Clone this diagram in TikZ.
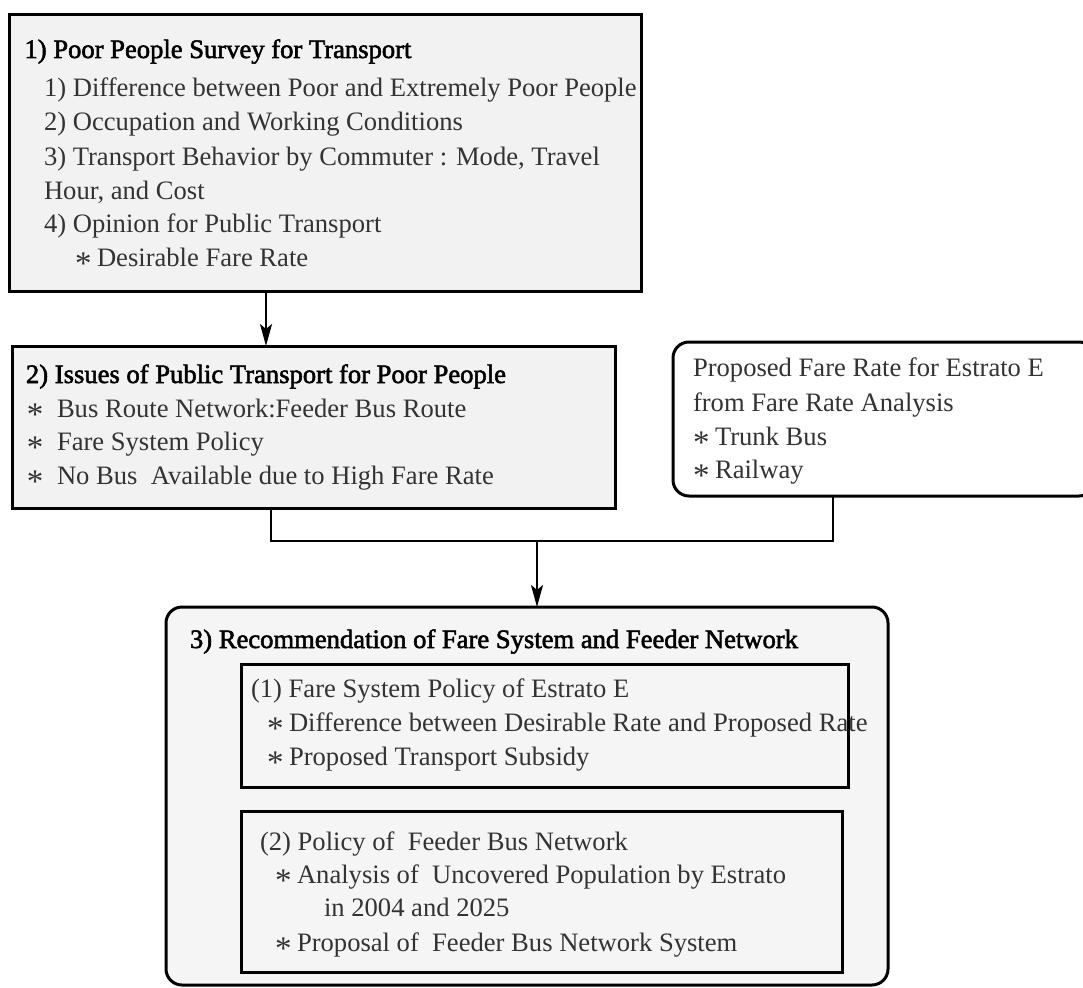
\documentclass[tikz,border=0pt]{standalone}
\usepackage{fontspec}
\setmainfont{Liberation Serif}
\newfontfamily\ttlfont{Liberation Serif}[FakeBold=2]
\usetikzlibrary{arrows.meta}
\definecolor{boxgray}{HTML}{F2F2F2}
\definecolor{boxlight}{HTML}{F5F5F5}
\definecolor{bodygray}{HTML}{333333}
\newcommand\bul[1]{\makebox[#1][l]{\raisebox{-8pt}{\fontsize{33pt}{34pt}\selectfont *}}}
\begin{document}
\begin{tikzpicture}[x=1pt,y=-1pt,
  box/.style={draw=black, line width=3pt, inner sep=0pt, outer sep=0pt, fill=#1},
  box/.default={boxgray},
  rbox/.style={box=#1, rounded corners=16pt},
  rbox/.default={white},
  txt/.style={anchor=base west, inner sep=0pt, outer sep=0pt,
    text height=18pt, text depth=5pt,
    font=\fontsize{26.6pt}{34pt}\selectfont, text=bodygray},
  ttl/.style={txt, font=\ttlfont\fontsize{26.6pt}{34pt}\selectfont, text=black},
  conn/.style={draw=black, line width=2.5pt},
  arr/.style={conn, -{Stealth[length=22pt, width=12pt, inset=5pt]}}
]
\useasboundingbox (0,0) rectangle (1083,987);

% boxes
\node[box, minimum width=632pt, minimum height=276pt] (b1) at (325,153) {};
\node[box, minimum width=603pt, minimum height=162pt] (b2) at (313.5,427) {};
\node[rbox, minimum width=422pt, minimum height=154pt] (b3) at (884,419) {};
\node[rbox=boxlight, minimum width=722pt, minimum height=378pt] (b4) at (527,796) {};
\node[box=boxlight, minimum width=607pt, minimum height=123pt] (b4a) at (544.5,725.5) {};
\node[box=boxlight, minimum width=601pt, minimum height=161pt] (b4b) at (541.5,891.5) {};

% connectors
\coordinate (xa) at (266,0);
\coordinate (xb) at (271,0);
\coordinate (xc) at (833,0);
\coordinate (j) at (537,541);
\draw[arr] (b1.south -| xa) -- (b2.north -| xa);
\draw[conn] (b2.south -| xb) |- (j) -| (b3.south -| xc);
\draw[arr] (j) -- (b4.north -| j);

% box 1 text
\node[ttl] (t1) at (24.5,58) {1) Poor People Survey for Transport};
\node[txt] (t1a) at (44,97) {1) Difference between Poor and Extremely Poor People};
\node[txt] (t1b) at (44,131) {2) Occupation and Working Conditions};
\node[txt] (t1c) at (44,165) {3) Transport Behavior by Commuter : Mode, Travel};
\node[txt] (t1d) at (44,199) {Hour, and Cost};
\node[txt] (t1e) at (44,232) {4) Opinion for Public Transport};
\node[txt] (t1f) at (75,266) {\bul{22pt}Desirable Fare Rate};

% box 2 text
\node[ttl] (t2) at (26,383) {2) Issues of Public Transport for Poor People};
\node[txt] (t2a) at (27,417) {\bul{30pt}Bus Route Network:Feeder Bus Route};
\node[txt] (t2b) at (27,450) {\bul{30pt}Fare System Policy};
\node[txt] (t2c) at (27,484) {\bul{30pt}No Bus\ \ Available due to High Fare Rate};

% box 3 text
\node[txt] (t3a) at (693,376) {Proposed Fare Rate for Estrato E};
\node[txt] (t3b) at (693,411) {from Fare Rate Analysis};
\node[txt] (t3c) at (693,445) {\bul{22pt}Trunk Bus};
\node[txt] (t3d) at (693,478) {\bul{22pt}Railway};

% box 4 text
\node[ttl] (t4) at (190,648) {3) Recommendation of Fare System and Feeder Network};
\node[txt] (t4a) at (251,697) {(1) Fare System Policy of Estrato E};
\node[txt] (t4b) at (267,731) {\bul{22pt}Difference between Desirable Rate and Proposed Rate};
\node[txt] (t4c) at (267,765) {\bul{22pt}Proposed Transport Subsidy};
\node[txt] (t5a) at (260,850) {(2) Policy of\ \ Feeder Bus Network};
\node[txt] (t5b) at (275,883) {\bul{22pt}Analysis of\ \ Uncovered Population by Estrato};
\node[txt] (t5c) at (324,916) {in 2004 and 2025};
\node[txt] (t5d) at (275,951) {\bul{22pt}Proposal of\ \ Feeder Bus Network System};
\end{tikzpicture}
\end{document}
